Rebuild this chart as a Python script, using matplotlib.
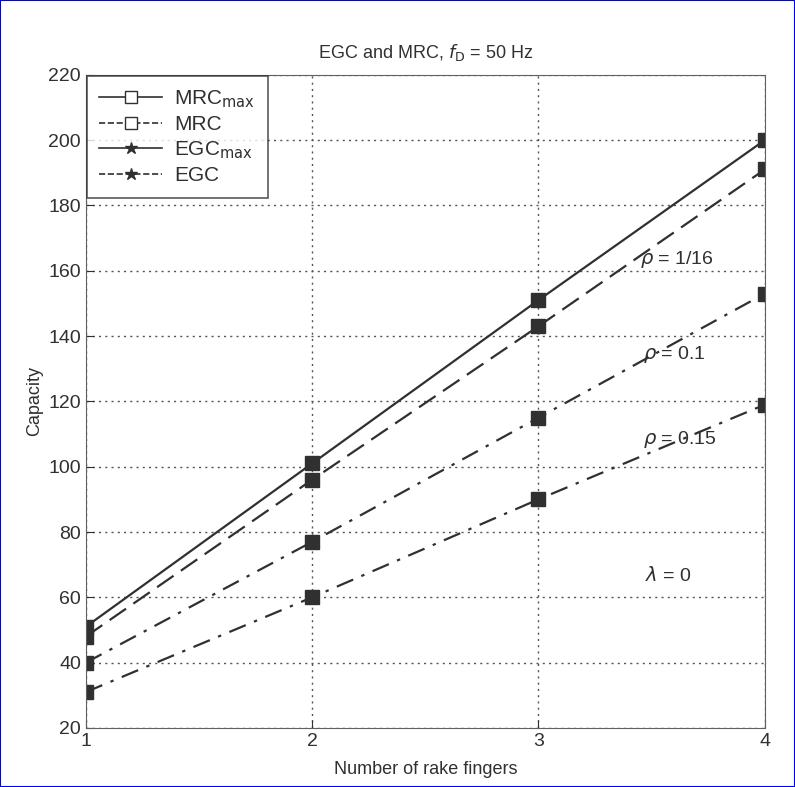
import numpy as np
import matplotlib
matplotlib.use("Agg")
import matplotlib.pyplot as plt
from matplotlib.lines import Line2D

# number of rake fingers
fingers = [1, 2, 3, 4]

# capacity values
mrc_max = [51, 101, 151, 200]
mrc = [48, 96, 143, 191]
rho_01 = [40, 77, 115, 153]
rho_015 = [31, 60, 90, 119]

legend_labels = ["MRC$_{\\mathrm{max}}$", "MRC", "EGC$_{\\mathrm{max}}$", "EGC"]
yticks = [20, 40, 60, 80, 100, 120, 140, 160, 180, 200, 220]

plt.rcParams['font.family'] = ['Liberation Sans', 'DejaVu Sans']
ink = '#303030'

fig = plt.figure(figsize=(7.95, 7.87), dpi=100)
ax = fig.add_axes([0.108, 0.075, 0.854, 0.830])

ax.plot(fingers, mrc_max, '-', color=ink, lw=1.6, marker='s', ms=10, mfc=ink, mec=ink)
ax.plot(fingers, mrc, '--', color=ink, lw=1.6, dashes=(9, 4), marker='s', ms=10, mfc=ink, mec=ink)
ax.plot(fingers, rho_01, '-.', color=ink, lw=1.6, dashes=(8, 4, 1.5, 4), marker='s', ms=10, mfc=ink, mec=ink)
ax.plot(fingers, rho_015, '-.', color=ink, lw=1.6, dashes=(8, 4, 1.5, 4), marker='s', ms=10, mfc=ink, mec=ink)

ax.set_xlim(1, 4)
ax.set_ylim(20, 220)
ax.set_xticks(fingers)
ax.set_yticks(yticks)
ax.tick_params(direction='in', labelsize=14, colors=ink, length=6)
ax.grid(True, linestyle=(0, (1.5, 3)), color='#555555', lw=1)
for s in ax.spines.values():
    s.set_color('#606060')

ax.set_xlabel('Number of rake fingers', fontsize=13, color=ink, labelpad=8)
ax.set_ylabel('Capacity', fontsize=13, color=ink, labelpad=4)
ax.set_title('EGC and MRC, $f_{\\mathrm{D}}$ = 50 Hz', fontsize=13, color=ink, pad=12)

ax.text(3.45, 162, r'$\rho$ = 1/16', fontsize=14, color=ink)
ax.text(3.46, 133, r'$\rho$ = 0.1', fontsize=14, color=ink)
ax.text(3.46, 107, r'$\rho$ = 0.15', fontsize=14, color=ink)
ax.text(3.47, 65, r'$\lambda$ = 0', fontsize=14, color=ink)

handles = [
    Line2D([], [], color=ink, ls='-', lw=1.2, marker='s', mfc='white', mec=ink, ms=9),
    Line2D([], [], color=ink, ls='--', lw=1.2, marker='s', mfc='white', mec=ink, ms=9),
    Line2D([], [], color=ink, ls='-', lw=1.2, marker='*', mfc=ink, mec=ink, ms=9),
    Line2D([], [], color=ink, ls='--', lw=1.2, marker='*', mfc=ink, mec=ink, ms=9),
]
leg = ax.legend(handles, legend_labels, loc='upper left', fontsize=15, frameon=True,
                fancybox=False, edgecolor=ink, handlelength=3.0, labelspacing=0.25,
                borderaxespad=0.05, borderpad=0.6, handletextpad=0.6)
leg.get_frame().set_linewidth(1.2)
for t in leg.get_texts():
    t.set_color(ink)

fig.patches.append(plt.Rectangle((0, 0), 1, 1, transform=fig.transFigure,
                                 fill=False, edgecolor='blue', lw=1.5))

fig.savefig('out.png', dpi=100)
